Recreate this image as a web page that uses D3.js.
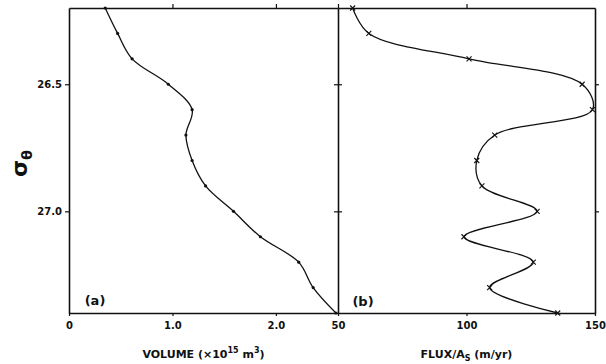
<!DOCTYPE html>
<html>
<head>
<meta charset="utf-8">
<script src="https://cdn.jsdelivr.net/npm/d3@7"></script>
<style>
  html, body { margin: 0; padding: 0; background: #fff; }
  svg { display: block; }
  text { font-family: "DejaVu Sans", sans-serif; fill: #111; }
</style>
</head>
<body>
<script>
// density levels (sigma-theta), one per sample
const sigma = [26.2, 26.3, 26.4, 26.5, 26.6, 26.7, 26.8, 26.9, 27.0, 27.1, 27.2, 27.3, 27.4];
// (a) volume, x10^15 m^3
const volume = [0.35, 0.47, 0.61, 0.96, 1.19, 1.13, 1.19, 1.32, 1.59, 1.85, 2.22, 2.36, 2.58];
// (b) flux / A_s, m/yr
const flux = [55.7, 62, 101, 145, 149, 111, 104, 106, 127.5, 99, 126, 109, 135.5];

const sigmaTicks = [26.5, 27.0];
const volTicks = [0, 1.0, 2.0];
const fluxTicks = [50, 100, 150];

const width = 606;
const height = 364;

const svg = d3.select("body").append("svg")
  .attr("width", width)
  .attr("height", height);

// Scales
const y = d3.scaleLinear().domain([26.2, 27.4]).range([8, 313]);
const xa = d3.scaleLinear().domain([0, 2.6]).range([69, 338]);
const xb = d3.scaleLinear().domain([50, 150]).range([338, 595]);

const ink = "#111";

function styleAxis(g, fontSize) {
  g.select(".domain").attr("stroke", ink).attr("stroke-width", 1.6);
  g.selectAll(".tick line").attr("stroke", ink).attr("stroke-width", 1.2);
  g.selectAll(".tick text")
    .attr("font-size", fontSize || 10)
    .attr("font-weight", "bold")
    .attr("fill", ink);
  g.attr("font-family", null);
}

// left axis
svg.append("g")
  .attr("transform", `translate(${xa(0)},0)`)
  .call(d3.axisLeft(y).tickValues(sigmaTicks).tickFormat(d3.format(".1f"))
    .tickSize(4).tickSizeOuter(0).tickPadding(3))
  .call(g => styleAxis(g, 10));

// middle axis, ticks across
svg.append("g")
  .attr("transform", `translate(${xa(2.6)},0)`)
  .call(d3.axisLeft(y).tickValues(sigmaTicks).tickFormat("").tickSize(4).tickSizeOuter(0))
  .call(g => styleAxis(g));
svg.append("g")
  .attr("transform", `translate(${xa(2.6)},0)`)
  .call(d3.axisRight(y).tickValues(sigmaTicks).tickFormat("").tickSize(4).tickSizeOuter(0))
  .call(g => g.select(".domain").remove())
  .call(g => styleAxis(g));

// right axis
svg.append("g")
  .attr("transform", `translate(${xb(150)},0)`)
  .call(d3.axisRight(y).tickValues(sigmaTicks).tickFormat("").tickSize(4).tickSizeOuter(0))
  .call(g => styleAxis(g));

// top axes
svg.append("g")
  .attr("transform", `translate(0,${y(26.2)})`)
  .call(d3.axisTop(xa).tickValues([1.0, 2.0]).tickFormat("").tickSize(4).tickSizeOuter(0))
  .call(g => styleAxis(g));
svg.append("g")
  .attr("transform", `translate(0,${y(26.2)})`)
  .call(d3.axisTop(xb).tickValues([50, 100]).tickFormat("").tickSize(4).tickSizeOuter(0))
  .call(g => styleAxis(g));

// bottom axes
svg.append("g")
  .attr("transform", `translate(0,${y(27.4)})`)
  .call(d3.axisBottom(xa).tickValues(volTicks).tickFormat(d => d === 0 ? "0" : d3.format(".1f")(d))
    .tickSize(3).tickSizeOuter(0).tickPadding(6))
  .call(g => styleAxis(g, 10));
svg.append("g")
  .attr("transform", `translate(0,${y(27.4)})`)
  .call(d3.axisBottom(xb).tickValues(fluxTicks).tickFormat(d3.format("d"))
    .tickSize(3).tickSizeOuter(0).tickPadding(6))
  .call(g => styleAxis(g, 10));

// (a) volume curve
const lineA = d3.line()
  .x((d, i) => xa(volume[i]))
  .y(d => y(d))
  .curve(d3.curveCatmullRom.alpha(0.5));
svg.append("path")
  .attr("d", lineA(sigma))
  .attr("fill", "none")
  .attr("stroke", ink)
  .attr("stroke-width", 1.3);
svg.append("g").selectAll("circle")
  .data(sigma)
  .join("circle")
  .attr("cx", (d, i) => xa(volume[i]))
  .attr("cy", d => y(d))
  .attr("r", 1.6)
  .attr("fill", ink);

// (b) flux curve
const lineB = d3.line()
  .x((d, i) => xb(flux[i]))
  .y(d => y(d))
  .curve(d3.curveCatmullRom.alpha(0.5));
svg.append("path")
  .attr("d", lineB(sigma))
  .attr("fill", "none")
  .attr("stroke", ink)
  .attr("stroke-width", 1.3);
const cross = d3.symbol().type(d3.symbolX).size(18);
svg.append("g").selectAll("path")
  .data(sigma)
  .join("path")
  .attr("d", cross)
  .attr("transform", (d, i) => `translate(${xb(flux[i])},${y(d)})`)
  .attr("fill", "none")
  .attr("stroke", ink)
  .attr("stroke-width", 1.1);

// panel labels
svg.append("text").attr("x", 95).attr("y", 305)
  .attr("text-anchor", "middle").attr("font-size", 13).attr("font-weight", "bold").text("(a)");
svg.append("text").attr("x", 363).attr("y", 306)
  .attr("text-anchor", "middle").attr("font-size", 13).attr("font-weight", "bold").text("(b)");

// y title
const yTitle = svg.append("text")
  .attr("transform", "translate(27,177) rotate(-90)")
  .attr("font-size", 22)
  .attr("font-weight", "bold");
yTitle.append("tspan").text("σ");
yTitle.append("tspan").attr("font-size", 14).attr("dy", 5).text("θ");

// x titles
const volTitle = svg.append("text")
  .attr("x", (xa(0) + xa(2.6)) / 2).attr("y", 358)
  .attr("text-anchor", "middle").attr("font-size", 11).attr("font-weight", "bold");
volTitle.append("tspan").text("VOLUME  (×10");
volTitle.append("tspan").attr("font-size", 8).attr("dy", -5).text("15");
volTitle.append("tspan").attr("dy", 5).text(" m");
volTitle.append("tspan").attr("font-size", 8).attr("dy", -5).text("3");
volTitle.append("tspan").attr("dy", 5).text(")");

const fluxTitle = svg.append("text")
  .attr("x", (xb(50) + xb(150)) / 2).attr("y", 358)
  .attr("text-anchor", "middle").attr("font-size", 11).attr("font-weight", "bold");
fluxTitle.append("tspan").text("FLUX/A");
fluxTitle.append("tspan").attr("font-size", 8).attr("dy", 3).text("S");
fluxTitle.append("tspan").attr("dy", -3).text("  (m/yr)");
</script>
</body>
</html>
